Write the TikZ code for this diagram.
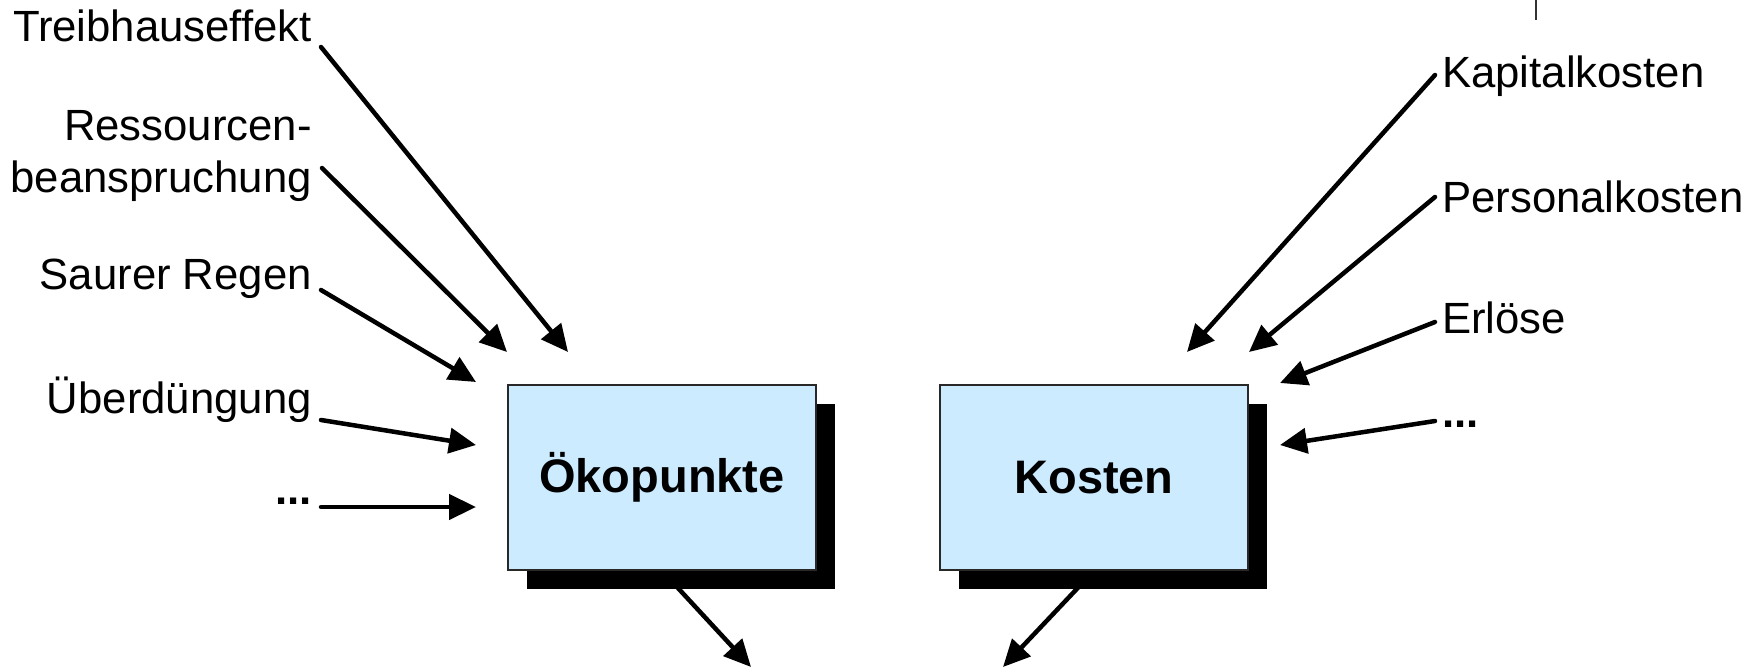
\documentclass[tikz,border=0pt]{standalone}
\usepackage{fontspec}
\setmainfont{Liberation Sans}
\usetikzlibrary{arrows.meta,shadows,backgrounds}
\definecolor{boxblue}{RGB}{204,235,255}
\definecolor{boxline}{RGB}{40,40,40}
\begin{document}
\begin{tikzpicture}[x=1pt,y=-1pt,
  lbl/.style={inner sep=0pt, font=\fontsize{43.7}{52}\selectfont},
  dotlbl/.style={inner sep=0pt, font=\fontsize{43.7}{52}\selectfont\bfseries},
  box/.style={draw=boxline, line width=1.5pt, fill=boxblue, minimum width=308pt, minimum height=185pt, inner sep=0pt,
    font=\fontsize{47}{52}\selectfont\bfseries,
    drop shadow={shadow xshift=19pt, shadow yshift=-19pt, fill=black, opacity=1}},
  arr/.style={line width=4.5pt, line cap=round, -{Triangle[length=27pt,width=25pt]}}
]
\useasboundingbox (0,0) rectangle (1758,669);

% boxes
\node[box] (ok) at (662,477.5) {Ökopunkte};
\node[box] (ko) at (1094,477.5) {Kosten};

% left labels
\node[lbl, anchor=base east] (tr) at (312,41.5) {Treibhauseffekt};
\node[lbl, anchor=base east, align=right] (rs) at (312,192) {Ressourcen-\\beanspruchung};
\node[lbl, anchor=base east] (sr) at (312,289) {Saurer Regen};
\node[lbl, anchor=base east] (ud) at (312,413) {Überdüngung};
\node[dotlbl, anchor=base east] (ld) at (312,504) {...};

% right labels
\node[lbl, anchor=base west] (kk) at (1442,88) {Kapitalkosten};
\node[lbl, anchor=base west] (pk) at (1442,212) {Personalkosten};
\node[lbl, anchor=base west] (er) at (1442,333) {Erlöse};
\node[dotlbl, anchor=base west] (rd) at (1442,427) {...};

% arrow tips
\coordinate (trE) at (568,352);
\coordinate (rsE) at (507,352);
\coordinate (srE) at (476,382);
\coordinate (udE) at (476,445);
\coordinate (ldE) at (476,507);
\coordinate (kkE) at (1187,352);
\coordinate (pkE) at (1249,352);
\coordinate (erE) at (1280,383);
\coordinate (rdE) at (1280,445);
\coordinate (okE) at (751,667);
\coordinate (koE) at (1003,667);

% incoming arrows
\draw[arr] ([shift={(9,5.5)}]tr.base east) -- (trE);
\draw[arr] ([shift={(10,-24)}]rs.base east) -- (rsE);
\draw[arr] ([shift={(9,1)}]sr.base east) -- (srE);
\draw[arr] ([shift={(9,7)}]ud.base east) -- (udE);
\draw[arr] ([shift={(9,3)}]ld.base east) -- (ldE);
\draw[arr] ([shift={(-7,-13)}]kk.base west) -- (kkE);
\draw[arr] ([shift={(-7,-15)}]pk.base west) -- (pkE);
\draw[arr] ([shift={(-7,-11)}]er.base west) -- (erE);
\draw[arr] ([shift={(-7,-6)}]rd.base west) -- (rdE);

% outgoing arrows behind the shadows
\begin{pgfonlayer}{background}
\draw[arr] (ok.south) -- (okE);
\draw[arr] (ko.south) -- (koE);
\end{pgfonlayer}

% small tick at top right
\draw[line width=2pt, draw=black!80] (1536,0) -- (1536,20);
\end{tikzpicture}
\end{document}
